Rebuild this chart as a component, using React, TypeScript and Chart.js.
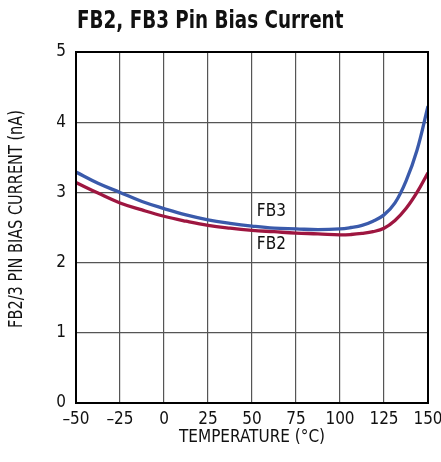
import React, { useEffect, useRef } from "react";
import { Chart, registerables } from "chart.js";

Chart.register(...registerables);

const temperatures = [-50, -37.5, -25, -12.5, 0, 12.5, 25, 37.5, 50, 62.5, 75, 87.5, 100, 106.25, 112.5, 118.75, 125, 131.25, 137.5, 143.75, 150];
const fb3Current = [3.29, 3.13, 3.0, 2.87, 2.77, 2.68, 2.61, 2.56, 2.52, 2.49, 2.48, 2.47, 2.48, 2.5, 2.53, 2.59, 2.68, 2.85, 3.16, 3.6, 4.23];
const fb2Current = [3.14, 2.99, 2.85, 2.75, 2.66, 2.59, 2.53, 2.49, 2.46, 2.44, 2.42, 2.41, 2.395, 2.4, 2.415, 2.44, 2.49, 2.6, 2.77, 3.0, 3.28];

const xTicks = [-50, -25, 0, 25, 50, 75, 100, 125, 150];
const yTicks = [0, 1, 2, 3, 4, 5];

const seriesLabels = [
  { text: "FB3", x: 61, y: 2.72 },
  { text: "FB2", x: 61, y: 2.26 },
];

const FONT = '"Liberation Sans Narrow", "DejaVu Sans Condensed", "Arial Narrow", sans-serif';

export default function App() {
  const canvasRef = useRef<HTMLCanvasElement | null>(null);

  useEffect(() => {
    const canvas = canvasRef.current;
    if (!canvas) return;

    const overlay = {
      id: "overlay",
      afterDraw(chart: any) {
        const { ctx, chartArea } = chart;
        const xs = chart.scales.x;
        const ys = chart.scales.y;
        ctx.save();
        ctx.strokeStyle = "#000";
        ctx.lineWidth = 2;
        ctx.strokeRect(chartArea.left, chartArea.top, chartArea.right - chartArea.left, chartArea.bottom - chartArea.top);
        ctx.fillStyle = "#111";
        ctx.font = `17px ${FONT}`;
        ctx.textAlign = "center";
        ctx.textBaseline = "middle";
        for (const l of seriesLabels) {
          ctx.fillText(l.text, xs.getPixelForValue(l.x), ys.getPixelForValue(l.y));
        }
        ctx.save();
        ctx.font = `bold 24px ${FONT}`;
        ctx.textAlign = "left";
        ctx.textBaseline = "alphabetic";
        ctx.translate(chartArea.left + 1, 28);
        ctx.scale(0.85, 1);
        ctx.fillText("FB2, FB3 Pin Bias Current", 0, 0);
        ctx.restore();
        ctx.save();
        ctx.font = `19px ${FONT}`;
        ctx.textAlign = "center";
        ctx.textBaseline = "middle";
        ctx.translate(17, 219);
        ctx.rotate(-Math.PI / 2);
        ctx.scale(0.85, 1);
        ctx.fillText("FB2/3 PIN BIAS CURRENT (nA)", 0, 0);
        ctx.restore();
        ctx.restore();
      },
    };

    const chart = new Chart(canvas, {
      type: "line",
      data: {
        datasets: [
          {
            label: "FB3",
            data: temperatures.map((t, i) => ({ x: t, y: fb3Current[i] })),
            borderColor: "#3a5aab",
            borderWidth: 3.3,
            pointRadius: 0,
            tension: 0.4,
            fill: false,
          },
          {
            label: "FB2",
            data: temperatures.map((t, i) => ({ x: t, y: fb2Current[i] })),
            borderColor: "#9e1640",
            borderWidth: 3.3,
            pointRadius: 0,
            tension: 0.4,
            fill: false,
          },
        ],
      },
      options: {
        animation: false,
        responsive: false,
        maintainAspectRatio: false,
        layout: { padding: { top: 52, right: 13, left: 0, bottom: 0 } },
        plugins: {
          legend: { display: false },
          tooltip: { enabled: false },
          title: { display: false },
        },
        scales: {
          x: {
            type: "linear",
            min: -50,
            max: 150,
            afterBuildTicks: (scale: any) => {
              scale.ticks = xTicks.map((v) => ({ value: v }));
            },
            afterFit: (scale: any) => {
              scale.height = 59;
              scale.paddingLeft = 0;
              scale.paddingRight = 0;
            },
            ticks: {
              color: "#111",
              font: { family: FONT, size: 17 },
              padding: 6,
              maxRotation: 0,
              autoSkip: false,
              callback: (v: any) => (Number(v) < 0 ? "\u2013" + Math.abs(Number(v)) : String(v)),
            },
            grid: { color: "#555", lineWidth: 1.2, drawTicks: false },
            border: { display: false },
            title: {
              display: true,
              text: "TEMPERATURE (\u00b0C)",
              color: "#111",
              font: { family: FONT, size: 17 },
              padding: { top: 0, bottom: 14 },
            },
          },
          y: {
            type: "linear",
            min: 0,
            max: 5,
            afterBuildTicks: (scale: any) => {
              scale.ticks = yTicks.map((v) => ({ value: v }));
            },
            afterFit: (scale: any) => {
              scale.width = 76;
              scale.paddingTop = 0;
              scale.paddingBottom = 0;
            },
            ticks: {
              color: "#111",
              font: { family: FONT, size: 17 },
              padding: 10,
              autoSkip: false,
            },
            grid: { color: "#555", lineWidth: 1.2, drawTicks: false },
            border: { display: false },
            title: { display: false },
          },
        },
      },
      plugins: [overlay],
    });

    return () => chart.destroy();
  }, []);

  return (
    <div style={{ position: "fixed", left: 0, top: 0, width: 441, height: 462, background: "#fff" }}>
      <canvas ref={canvasRef} width={441} height={462} style={{ width: 441, height: 462, display: "block" }} />
    </div>
  );
}
